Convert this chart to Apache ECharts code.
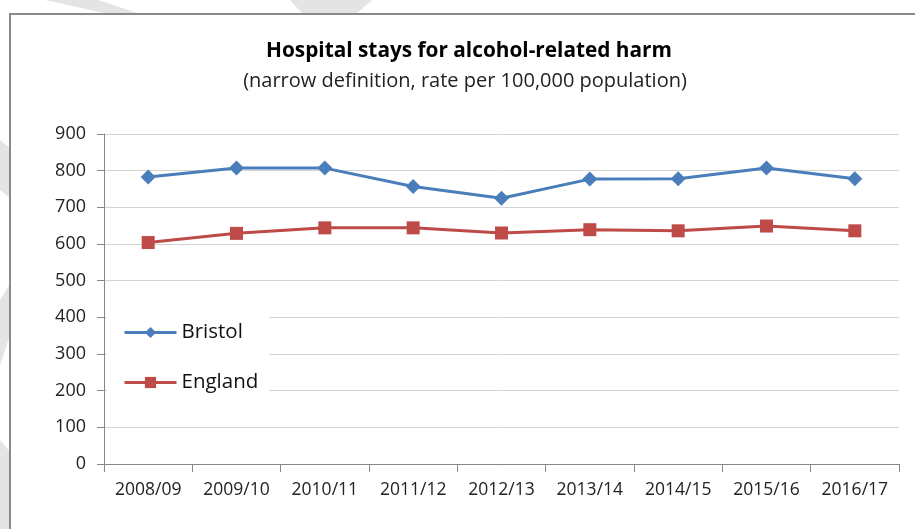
<!DOCTYPE html>
<html>
<head>
<meta charset="utf-8">
<script src="https://cdn.jsdelivr.net/npm/echarts@6/dist/echarts.min.js"></script>
<style>
html,body{margin:0;padding:0;background:#fff;}
#chart{width:915px;height:529px;}
</style>
</head>
<body>
<div id="chart"></div>
<script>
const categories = ["2008/09","2009/10","2010/11","2011/12","2012/13","2013/14","2014/15","2015/16","2016/17"];
const bristol = [783, 807, 807, 757, 725, 777, 778, 807, 778];
const england = [604, 629, 644, 644, 630, 639, 636, 649, 636];
const yTicks = [0, 100, 200, 300, 400, 500, 600, 700, 800, 900];
const titleText = "Hospital stays for alcohol-related harm";
const subtitleText = "(narrow definition, rate per 100,000 population)";

const FONT = "'Open Sans', 'Noto Sans', sans-serif";
const chart = echarts.init(document.getElementById('chart'), null, {renderer: 'canvas'});
const stripe = '#e4e4e4';
chart.setOption({
  animation: false,
  backgroundColor: '#fff',
  graphic: [
    {type:'polygon', z:-20, silent:true, shape:{points:[[45,0],[98,0],[140,14],[108,14]]}, style:{fill:stripe}},
    {type:'polygon', z:-20, silent:true, shape:{points:[[290,0],[372,0],[356,14],[303,14]]}, style:{fill:stripe}},
    {type:'polygon', z:-20, silent:true, shape:{points:[[0,140],[10,148],[10,198],[0,190]]}, style:{fill:stripe}},
    {type:'polygon', z:-20, silent:true, shape:{points:[[0,300],[10,284],[10,335],[0,365]]}, style:{fill:stripe}},
    {type:'polygon', z:-20, silent:true, shape:{points:[[0,440],[10,452],[10,529],[0,529]]}, style:{fill:stripe}},
    {type:'rect', z:-10, silent:true, shape:{x:10, y:14, width:930, height:540}, style:{fill:'#fff', stroke:'#8a8a8a', lineWidth:2}},
    {type:'text', z:10, silent:true, x:469, y:51, style:{text:titleText, font:"bold 20.8px " + FONT, fill:'#000', textAlign:'center', textVerticalAlign:'middle'}},
    {type:'text', z:10, silent:true, x:465, y:81, style:{text:subtitleText, font:"20px " + FONT, fill:'#222', textAlign:'center', textVerticalAlign:'middle'}}
  ],
  grid: {left:104, right:16, top:134, bottom:65, containLabel:false},
  legend: {
    orient:'vertical', left:107, top:310,
    padding:[12,11,12,16],
    backgroundColor:'#fff',
    itemWidth:52, itemHeight:14, itemGap:29,
    lineStyle:{width:3},
    textStyle:{fontSize:20.5, fontFamily:FONT, color:'#111', lineHeight:20},
    data:['Bristol','England']
  },
  xAxis: {
    type:'category', data:categories, boundaryGap:true,
    axisLine:{lineStyle:{color:'#868686', width:1}},
    axisTick:{show:true, length:8, lineStyle:{color:'#868686'}, alignWithLabel:false},
    axisLabel:{fontSize:17.5, fontFamily:FONT, color:'#222', margin:17, interval:0}
  },
  yAxis: {
    type:'value', min:yTicks[0], max:yTicks[yTicks.length-1], interval:100,
    axisLine:{show:true, lineStyle:{color:'#868686', width:1}},
    axisTick:{show:true, length:7, lineStyle:{color:'#868686'}},
    axisLabel:{fontSize:18, fontFamily:FONT, color:'#222', margin:18},
    splitLine:{show:true, lineStyle:{color:'#d4d4d4', width:1}}
  },
  series: [
    {name:'Bristol', type:'line', data:bristol, color:'#4a7ebb',
     lineStyle:{width:3, color:'#4a7ebb'}, symbol:'diamond', symbolSize:15,
     itemStyle:{color:'#4a7ebb'}, z:3},
    {name:'England', type:'line', data:england, color:'#be4b48',
     lineStyle:{width:3, color:'#be4b48'}, symbol:'rect', symbolSize:13,
     itemStyle:{color:'#be4b48'}, z:3}
  ]
});
</script>
</body>
</html>
